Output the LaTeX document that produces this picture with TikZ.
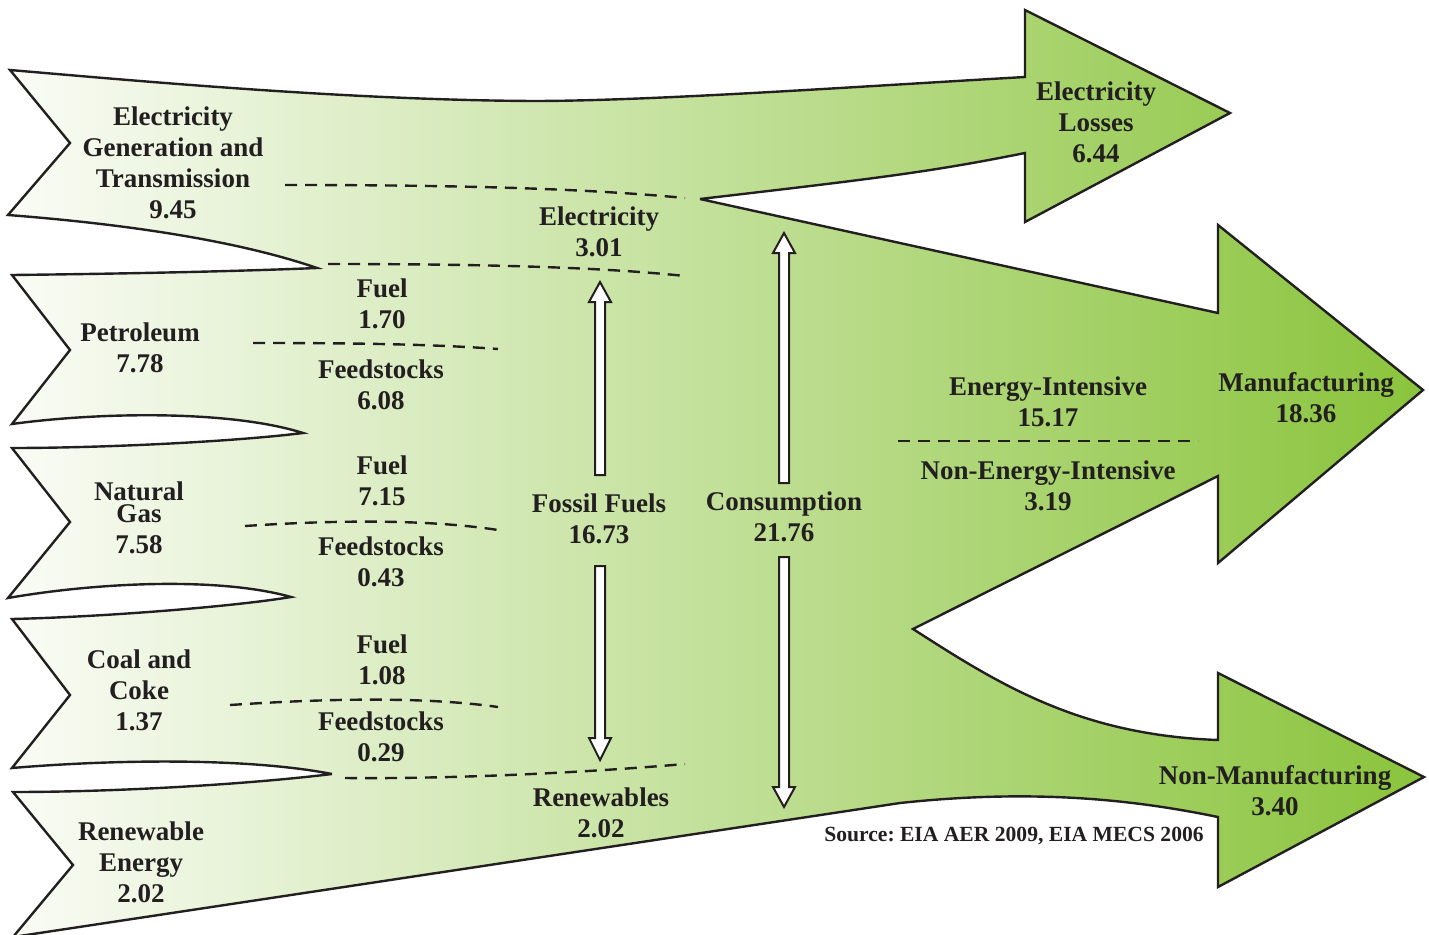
\documentclass[tikz,border=0pt]{standalone}
\usepackage{fontspec}
\setmainfont{Liberation Serif}
\definecolor{lightend}{RGB}{250,252,246}
\definecolor{greenend}{RGB}{138,196,60}
\definecolor{ink}{RGB}{35,31,32}
\begin{document}
\frenchspacing
\begin{tikzpicture}[x=1pt,y=-1pt,
  lbl/.style={anchor=north, inner sep=0pt, align=center, text=ink,
              font=\fontsize{27}{30.8}\selectfont\bfseries},
  srclbl/.style={anchor=north, inner sep=0pt, text=ink,
              font=\fontsize{21.6}{24}\selectfont\bfseries},
  divider/.style={draw=ink, line width=2.4pt, dash pattern=on 12pt off 8pt},
  hollow/.style={draw=ink, fill=white, line width=2pt, line join=miter},
  flow/.style={draw=ink, line width=2.4pt, left color=lightend, right color=greenend,
               line join=miter, miter limit=6}]
\useasboundingbox (0,0) rectangle (1429,934);

% ---- the whole flow band ----
\path[flow]
  (10,70) .. controls (150,82) and (350,100) .. (533,101)
  .. controls (650,101) and (850,87) .. (1025,77)
  -- (1025,10) -- (1230,113) -- (1025,222) -- (1025,153)
  .. controls (930,172) and (880,178) .. (700,199)
  -- (1218,313) -- (1218,225) -- (1423,390) -- (1218,563) -- (1218,476)
  -- (913,629)
  .. controls (1000,685) and (1080,735) .. (1218,740)
  -- (1218,673) -- (1424,777) -- (1218,887) -- (1218,817)
  .. controls (1140,801) and (1040,788) .. (900,803)
  -- (13,937)
  -- (73,865) -- (13,792)
  .. controls (120,792) and (250,784) .. (332,774)
  .. controls (250,758) and (120,759) .. (12,768)
  -- (70,695) -- (12,619)
  .. controls (100,617) and (230,607) .. (291,597)
  .. controls (220,577) and (100,582) .. (8,598)
  -- (70,522) -- (12,448)
  .. controls (100,448) and (230,442) .. (303,433)
  .. controls (230,410) and (100,412) .. (12,424)
  -- (70,350) -- (12,275)
  .. controls (100,274) and (220,272) .. (317,268)
  .. controls (250,245) and (150,226) .. (8,215)
  -- (70,143) -- cycle;

% ---- dashed dividers ----
\draw[divider] (285,185) .. controls (450,185) and (580,188) .. (685,198);
\draw[divider] (328,264) .. controls (480,264) and (600,267) .. (685,276);
\draw[divider] (253,343) .. controls (350,343) and (430,344) .. (498,349);
\draw[divider] (245,526) .. controls (320,521) and (420,518) .. (498,530);
\draw[divider] (230,705) .. controls (320,699) and (420,696) .. (498,707);
\draw[divider] (345,778) .. controls (450,779) and (580,773) .. (685,764);
\draw[divider] (898,441) -- (1198,441);

% ---- hollow arrows ----
\draw[hollow] (595,475) -- (595,302) -- (589,302) -- (600,282) -- (611,302) -- (605,302) -- (605,475) -- cycle;
\draw[hollow] (595,566) -- (595,738) -- (589,738) -- (600,760) -- (611,738) -- (605,738) -- (605,566) -- cycle;
\draw[hollow] (779,483) -- (779,253) -- (773,253) -- (784,233) -- (795,253) -- (789,253) -- (789,483) -- cycle;
\draw[hollow] (779,557) -- (779,787) -- (773,787) -- (784,807) -- (795,787) -- (789,787) -- (789,557) -- cycle;

% ---- labels ----
\node[lbl] (elecgen) at (173,107) {Electricity\\Generation and\\Transmission\\9.45};
\node[lbl] (petro) at (140,323) {Petroleum\\7.78};
\node[lbl] (natgas) at (139,482) {Natural\\[-9.5pt]Gas\\7.58};
\node[lbl] (coal) at (139,650) {Coal and\\Coke\\1.37};
\node[lbl] (renew) at (141,822) {Renewable\\Energy\\2.02};

\node[lbl] (pfuel) at (382,279) {Fuel\\1.70};
\node[lbl] (pfeed) at (381,360) {Feedstocks\\6.08};
\node[lbl] (gfuel) at (382,456) {Fuel\\7.15};
\node[lbl] (gfeed) at (381,537) {Feedstocks\\0.43};
\node[lbl] (cfuel) at (382,635) {Fuel\\1.08};
\node[lbl] (cfeed) at (381,712) {Feedstocks\\0.29};

\node[lbl] (elec) at (599,207) {Electricity\\3.01};
\node[lbl] (fossil) at (599,494) {Fossil Fuels\\16.73};
\node[lbl] (renewables) at (601,788) {Renewables\\2.02};
\node[lbl] (consump) at (784,492) {Consumption\\21.76};

\node[lbl] (losses) at (1096,82) {Electricity\\Losses\\6.44};
\node[lbl] (eint) at (1048,377) {Energy-Intensive\\15.17};
\node[lbl] (neint) at (1048,461) {Non-Energy-Intensive\\3.19};
\node[lbl] (manuf) at (1306,372) {Manufacturing\\18.36};
\node[lbl] (nonmanuf) at (1275,765) {Non-Manufacturing\\3.40};
\node[srclbl] (source) at (1014,827) {Source: EIA AER 2009, EIA MECS 2006};
\end{tikzpicture}
\end{document}
